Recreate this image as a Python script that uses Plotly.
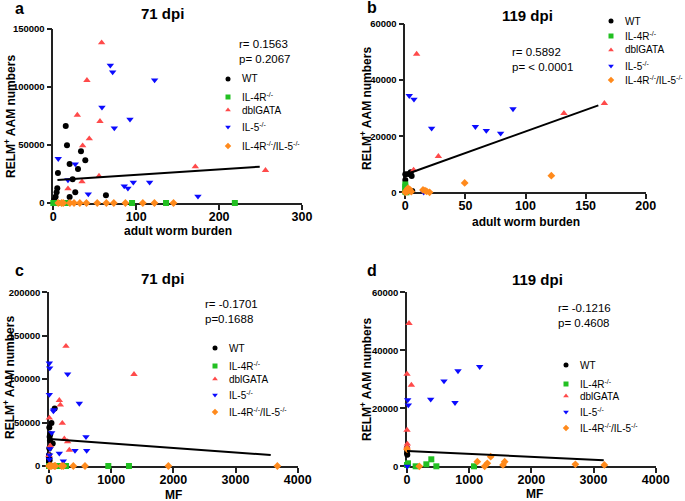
import plotly.graph_objects as go

FONT = "Arial, Liberation Sans, sans-serif"
W, H = 685, 501

GROUPS = ["WT", "IL-4R<sup>-/-</sup>", "dblGATA", "IL-5<sup>-/-</sup>",
          "IL-4R<sup>-/-</sup>/IL-5<sup>-/-</sup>"]
COLORS = ["#000000", "#22c022", "#ff4a4a", "#0b0bff", "#ff8a1c"]
SYMBOLS = ["circle", "square", "triangle-up", "triangle-down", "diamond"]
SIZES = [6, 6, 6.5, 6.5, 6]

# ---- panel a: 71 dpi, adult worm burden
a_wt_x = [15, 16.5, 19.7, 23.3, 5.6, 33.4, 29.8, 38.6, 26.5, 19.7, 63.5, 4.8, 4, 2.8, 1.2]
a_wt_y = [66250, 49600, 33550, 20360, 25800, 44450, 29250, 36700, 9180, 5160, 6600, 12600, 9180, 5450, 2580]
a_il4r_x = [0, 3, 5, 13, 15, 95, 136, 219]
a_il4r_y = [0, 0, 0, 0, 0, 0, 0, 0]
a_gata_x = [58.3, 40.6, 29, 56.3, 43.4, 35.4, 55.1, 34.6, 17.7, 171.3, 256]
a_gata_y = [137950, 105540, 75700, 70270, 55350, 49330, 23230, 18350, 12330, 31260, 28100]
a_il5_x = [68.8, 71.6, 122.2, 58.7, 92.5, 73.6, 6, 26.5, 17.7, 42.2, 85.6, 90, 96.5, 116.2, 174.5]
a_il5_y = [118450, 112700, 105800, 82300, 72000, 64500, 38150, 33550, 19800, 7740, 14600, 12600, 17800, 17800, 5740]
a_dko_x = [6, 10, 12, 20, 25, 32, 40, 53, 64, 73, 87, 108, 122, 145]
a_dko_y = [0, 0, 0, 0, 0, 0, 0, 0, 0, 0, 0, 0, 0, 0]
a_fit_x = [5, 249]
a_fit_y = [19800, 31260]

# ---- panel b: 119 dpi, adult worm burden
b_wt_x = [0, 0, 2.5, 4.5, 5.3, 5.8]
b_wt_y = [6400, 4380, 6520, 7130, 5800, 460]
b_il4r_x = [0, 0, 0, 0.5, 1, 0]
b_il4r_y = [2800, 2000, 1200, 500, 0, 200]
b_gata_x = [9.4, 27.5, 6.9, 132, 165.6]
b_gata_y = [49300, 12830, 7960, 28150, 31720]
b_il5_x = [3.3, 7.2, 21.9, 58.3, 67.4, 79.3, 89.6, 15.3]
b_il5_y = [34450, 33150, 22800, 23400, 22000, 21030, 29700, 0]
b_dko_x = [49.4, 121.5, 14.7, 16.4, 17.8, 20.2, 2.2, 3.6, 0.8, 1.7, 0, 5]
b_dko_y = [3330, 5940, 830, 600, 360, 0, 1430, 1070, 600, 240, 0, 240]
b_fit_x = [1.4, 160.6]
b_fit_y = [6530, 31000]

# ---- panel c: 71 dpi, MF
c_wt_x = [91, 40, 10, 5, 60, 5, 15, 20, 5, 0, 10, 0, 0, 0, 0]
c_wt_y = [66250, 49600, 33550, 20360, 25800, 44450, 29250, 36700, 9180, 5160, 6600, 12600, 9180, 5450, 2580]
c_il4r_x = [0, 70, 150, 204, 273, 954, 1286]
c_il4r_y = [0, 0, 0, 0, 0, 0, 0]
c_gata_x = [273, 1367, 166, 182, 5, 214, 20, 327, 0, 246, 300]
c_gata_y = [137950, 105540, 75700, 70270, 55350, 49330, 23230, 18350, 12330, 31260, 28100]
c_il5_x = [5, 11, 300, 5, 488, 80, 43, 595, 16, 5, 166, 10, 418, 606, 231, 70]
c_il5_y = [118450, 112700, 105800, 82300, 72000, 64500, 38150, 33550, 19800, 7740, 14600, 12600, 17800, 17800, 5740, 63300]
c_dko_x = [0, 5, 20, 43, 85, 100, 204, 230, 391, 579, 1920, 3673]
c_dko_y = [0, 0, 0, 0, 0, 0, 0, 0, 0, 0, 0, 0]
c_fit_x = [16, 3566]
c_fit_y = [31100, 12670]

# ---- panel d: 119 dpi, MF
d_wt_x = [0, 0, 0, 5]
d_wt_y = [6300, 5600, 4480, 4000]
d_il4r_x = [16, 139, 311, 391, 472, 1078, 0]
d_il4r_y = [1030, 0, 690, 2410, 0, 0, 450]
d_gata_x = [32, 0, 70, 0, 5, 0]
d_gata_y = [49300, 31800, 28000, 12500, 7700, 6800]
d_il5_x = [1169, 820, 11, 381, 772, 21, 595, 5]
d_il5_y = [34350, 32900, 22900, 23100, 21950, 21100, 29400, 0]
d_dko_x = [0, 198, 1131, 1249, 1292, 1346, 1544, 1571, 2708, 3174]
d_dko_y = [5900, 0, 1600, 0, 1030, 3330, 460, 1600, 690, 460]
d_fit_x = [0, 3164]
d_fit_y = [5290, 2070]


def px(x):
    return x / W


def py(y):
    return 1 - y / H


def add_panel(fig, n, series, fit_x, fit_y):
    xa = "x" if n == 1 else f"x{n}"
    ya = "y" if n == 1 else f"y{n}"
    for i, (xs, ys) in enumerate(series):
        fig.add_trace(go.Scatter(
            x=xs, y=ys, mode="markers", name=GROUPS[i],
            marker=dict(symbol=SYMBOLS[i], size=SIZES[i], color=COLORS[i], line=dict(width=0)),
            xaxis=xa, yaxis=ya, showlegend=False, cliponaxis=False
        ))
    fig.add_trace(go.Scatter(
        x=fit_x, y=fit_y, mode="lines", line=dict(color="black", width=2),
        xaxis=xa, yaxis=ya, showlegend=False, cliponaxis=False
    ))


def axis(domain, rng, dtick, size, anchor, standoff=0):
    return dict(
        domain=domain, range=rng, dtick=dtick, tick0=0, anchor=anchor,
        showline=True, linecolor="#222", linewidth=1.5,
        ticks="outside", ticklen=5, tickwidth=1.5, tickcolor="#222",
        showgrid=False, zeroline=False, tickformat="d", layer="below traces",
        automargin=False, ticklabelstandoff=standoff,
        tickfont=dict(family=FONT, size=size, color="black", weight="bold")
    )


fig = go.Figure()

add_panel(fig, 1, [(a_wt_x, a_wt_y), (a_il4r_x, a_il4r_y), (a_gata_x, a_gata_y),
                   (a_il5_x, a_il5_y), (a_dko_x, a_dko_y)], a_fit_x, a_fit_y)
add_panel(fig, 2, [(b_wt_x, b_wt_y), (b_il4r_x, b_il4r_y), (b_gata_x, b_gata_y),
                   (b_il5_x, b_il5_y), (b_dko_x, b_dko_y)], b_fit_x, b_fit_y)
add_panel(fig, 3, [(c_wt_x, c_wt_y), (c_il4r_x, c_il4r_y), (c_gata_x, c_gata_y),
                   (c_il5_x, c_il5_y), (c_dko_x, c_dko_y)], c_fit_x, c_fit_y)
add_panel(fig, 4, [(d_wt_x, d_wt_y), (d_il4r_x, d_il4r_y), (d_gata_x, d_gata_y),
                   (d_il5_x, d_il5_y), (d_dko_x, d_dko_y)], d_fit_x, d_fit_y)

# panel boxes in pixels: (left, right, top, bottom)
boxes = {
    1: (53.3, 302, 28.7, 203),
    2: (405.3, 645.7, 24, 192.3),
    3: (49, 297.7, 292.3, 466),
    4: (407, 655.7, 292.3, 466.3),
}
ranges = {
    1: ([0, 300], 100, [0, 150000], 50000),
    2: ([0, 200], 50, [0, 60000], 20000),
    3: ([0, 4000], 1000, [0, 200000], 50000),
    4: ([0, 4000], 1000, [0, 60000], 20000),
}

layout = {}
for n, (l, r, t, b) in boxes.items():
    xr, xd, yr, yd = ranges[n]
    xk = "xaxis" if n == 1 else f"xaxis{n}"
    yk = "yaxis" if n == 1 else f"yaxis{n}"
    layout[xk] = axis([px(l), px(r)], xr, xd, 12.5, "y" if n == 1 else f"y{n}", standoff=-4)
    layout[yk] = axis([py(b), py(t)], yr, yd, 9.5, "x" if n == 1 else f"x{n}")

# pixel-space overlay used for the per-panel legend keys
layout["xaxis5"] = dict(domain=[0, 1], range=[0, W], visible=False, fixedrange=True, anchor="y5")
layout["yaxis5"] = dict(domain=[0, 1], range=[H, 0], visible=False, fixedrange=True, anchor="x5")

annotations = []


def text(x, y, s, size, bold=False, angle=0, xanchor="center", yanchor="middle"):
    annotations.append(dict(
        x=px(x), y=py(y), xref="paper", yref="paper", text=s, showarrow=False,
        textangle=angle, xanchor=xanchor, yanchor=yanchor, align="left",
        font=dict(family=FONT, size=size, color="black", weight="bold" if bold else "normal")
    ))


# legend keys: marker column x and row y for each panel
legend_rows = {
    1: (228, [79, 97, 110, 127, 146]),
    2: (611, [21, 36, 50, 66, 80]),
    3: (215, [348, 366, 379, 395, 412]),
    4: (566, [365, 384, 396, 412, 428]),
}
for n, (kx, rows) in legend_rows.items():
    fig.add_trace(go.Scatter(
        x=[kx] * len(rows), y=rows, mode="markers", showlegend=False, hoverinfo="skip",
        marker=dict(symbol=SYMBOLS, size=5, color=COLORS, line=dict(width=0)),
        xaxis="x5", yaxis="y5", cliponaxis=False
    ))
    for label, ry in zip(GROUPS, rows):
        text(kx + 12, ry, label, 10, xanchor="left")

# panel letters
text(19, 8.5, "a", 16, True)
text(372, 8, "b", 16, True)
text(19, 270, "c", 16, True)
text(372, 270, "d", 16, True)

# titles
text(162, 13, "71 dpi", 15, True)
text(527, 16, "119 dpi", 15, True)
text(162, 278, "71 dpi", 15, True)
text(537, 279, "119 dpi", 15, True)

# axis titles
text(178, 231, "adult worm burden", 12, True)
text(526, 222, "adult worm burden", 12, True)
text(174, 494.5, "MF", 12, True)
text(534, 494, "MF", 12, True)
ylab = "RELM<sup>+</sup> AAM numbers"
text(10, 117, ylab, 12, True, -90)
text(366, 108, ylab, 12, True, -90)
text(9, 378, ylab, 12, True, -90)
text(366, 379, ylab, 12, True, -90)

# correlation stats
text(237, 36, "r= 0.1563<br>p= 0.2067", 11.5, xanchor="left", yanchor="top")
text(510, 44, "r= 0.5892<br>p= < 0.0001", 11.5, xanchor="left", yanchor="top")
text(203, 296, "r= -0.1701<br>p=0.1688", 11.5, xanchor="left", yanchor="top")
text(556, 300, "r= -0.1216<br>p= 0.4608", 11.5, xanchor="left", yanchor="top")

fig.update_layout(
    **layout,
    annotations=annotations,
    width=W, height=H,
    margin=dict(l=0, r=0, t=0, b=0, autoexpand=False),
    showlegend=False,
    plot_bgcolor="rgba(0,0,0,0)",
    paper_bgcolor="white",
    font=dict(family=FONT, color="black"),
)

fig.write_html("out.html", config={"displayModeBar": False},
               post_script="document.body.style.margin = '0';")
